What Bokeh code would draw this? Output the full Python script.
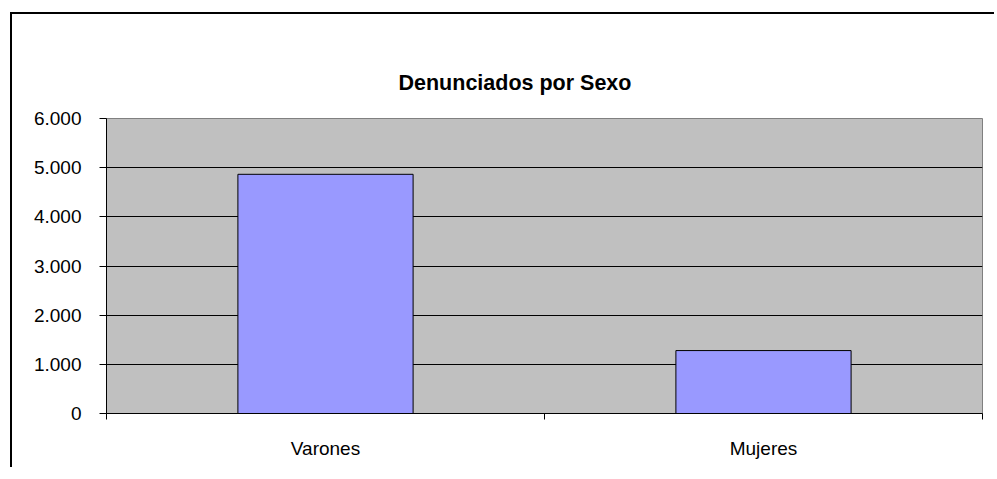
from bokeh.plotting import figure
from bokeh.models import (ColumnDataSource, Range1d, LinearAxis, FixedTicker, Title)
from bokeh.embed import file_html
from bokeh.resources import INLINE

# ---- data ----
categories = ["Varones", "Mujeres"]
denunciados = [4865, 1280]
y_ticks = [0, 1000, 2000, 3000, 4000, 5000, 6000]
y_tick_labels = ["0", "1.000", "2.000", "3.000", "4.000", "5.000", "6.000"]
title_text = "Denunciados por Sexo"

FONT = "Liberation Sans"

n = len(categories)
centers = [i + 0.5 for i in range(n)]
source = ColumnDataSource(data=dict(x=centers, val=denunciados, cat=categories))

p = figure(
    x_range=Range1d(0, n),
    y_range=Range1d(y_ticks[0], y_ticks[-1]),
    width=984, height=455,
    output_backend="svg", toolbar_location=None,
    x_axis_location=None, y_axis_location="left",
    min_border_left=94, min_border_right=14,
    min_border_top=104, min_border_bottom=56,
    background_fill_color="#C0C0C0", border_fill_color="white",
    outline_line_color="#808080", outline_line_width=1,
)

p.styles = {"border-left": "2px solid black", "border-top": "2px solid black",
            "margin-left": "10px", "margin-top": "12px"}

# title
title = Title(text=title_text, align="left", offset=292, standoff=48,
              text_font=FONT, text_font_size="21.5px", text_font_style="bold",
              text_color="black")
p.add_layout(title, "above")

# invisible spacer between the frame and the title
spacer_ticks = [0]
spacer = LinearAxis(ticker=FixedTicker(ticks=spacer_ticks),
                    major_label_overrides={t: "" for t in spacer_ticks},
                    major_tick_out=22, major_tick_in=0,
                    minor_tick_out=0, minor_tick_in=0,
                    major_label_standoff=0,
                    axis_line_color=None, major_tick_line_color=None,
                    minor_tick_line_color=None, major_label_text_color=None)
p.add_layout(spacer, "above")

# bars
p.vbar(x="x", top="val", width=0.4, source=source,
       fill_color="#9999FF", line_color="black", line_width=1)

# y axis
ya = p.yaxis[0]
ya.ticker = FixedTicker(ticks=y_ticks)
ya.major_label_overrides = {t: l for t, l in zip(y_ticks, y_tick_labels)}
ya.major_tick_out = 7
ya.major_tick_in = 0
ya.minor_tick_out = 0
ya.minor_tick_in = 0
ya.axis_line_color = "black"
ya.major_tick_line_color = "black"
ya.major_label_standoff = 18
ya.major_label_text_font = FONT
ya.major_label_text_font_size = "19px"
ya.major_label_text_color = "black"

# grid
p.ygrid.ticker = FixedTicker(ticks=y_ticks[1:-1])
p.ygrid.grid_line_color = "black"
p.ygrid.grid_line_width = 1
for g in p.xgrid:
    g.grid_line_color = None

# x axis: tick marks at category edges
edge_ticks = list(range(n + 1))
edge_axis = LinearAxis(ticker=FixedTicker(ticks=edge_ticks),
                       major_label_overrides={t: "" for t in edge_ticks},
                       major_tick_out=6, major_tick_in=0,
                       minor_tick_out=0, minor_tick_in=0,
                       major_label_text_color=None,
                       major_label_standoff=0,
                       axis_line_color="black", major_tick_line_color="black")
p.add_layout(edge_axis, "below")

# x axis: category names at category centres
cat_axis = LinearAxis(ticker=FixedTicker(ticks=centers),
                      major_label_overrides={c: name for c, name in zip(centers, categories)},
                      axis_line_color=None, major_tick_out=0, major_tick_in=0,
                      minor_tick_out=0, minor_tick_in=0,
                      major_tick_line_color=None,
                      major_label_text_font=FONT,
                      major_label_text_font_size="19px",
                      major_label_text_color="black",
                      major_label_standoff=18)
p.add_layout(cat_axis, "below")

open("out.html", "w").write(file_html(p, INLINE))
